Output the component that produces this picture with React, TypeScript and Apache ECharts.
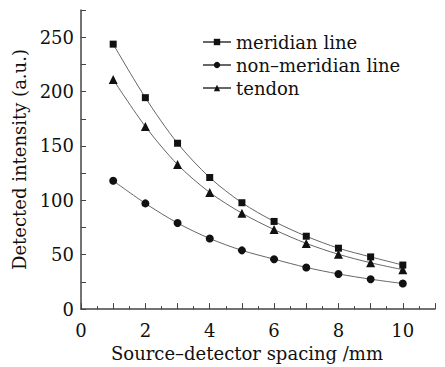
import React, { useEffect, useRef } from "react";
import * as echarts from "echarts";

const spacing = [1, 2, 3, 4, 5, 6, 7, 8, 9, 10];
const meridian = [243.6, 194.4, 152.5, 121, 97.8, 80.6, 67, 56, 48, 40.5];
const nonMeridian = [118, 97.2, 79.1, 64.9, 54, 45.9, 38.3, 32.3, 27.5, 23.5];
const tendon = [211, 167.9, 132.9, 107.2, 88.2, 73.1, 60.4, 50.4, 42.6, 36.2];
const seriesNames = ["meridian line", "non\u2013meridian line", "tendon"];

const FONT = "DejaVu Serif";

export default function App() {
  const ref = useRef<HTMLDivElement>(null);
  useEffect(() => {
    if (!ref.current) return;
    const chart = echarts.init(ref.current, undefined, { renderer: "svg" });
    const mk = (name: string, vals: number[], symbol: string, size: number) => ({
      name,
      type: "line",
      data: spacing.map((x, i) => [x, vals[i]]),
      smooth: 0.3,
      symbol,
      symbolSize: size,
      showSymbol: true,
      itemStyle: { color: "#111", borderWidth: 0 },
      lineStyle: { color: "#666", width: 1 },
    });
    chart.setOption({
      animation: false,
      backgroundColor: "#fff",
      textStyle: { fontFamily: FONT, fontSize: 18 },
      grid: { left: 81, top: 10, right: 10, bottom: 53 },
      legend: {
        orient: "vertical",
        left: 197,
        top: 28,
        itemGap: 5,
        itemWidth: 28,
        itemHeight: 8,
        textStyle: { fontFamily: FONT, fontSize: 18, color: "#111" },
        data: seriesNames,
      },
      xAxis: {
        type: "value",
        min: 0,
        max: 11,
        interval: 1,
        name: "Source\u2013detector spacing /mm",
        nameLocation: "middle",
        nameGap: 19,
        nameTextStyle: { fontFamily: FONT, fontSize: 18, color: "#111", padding: [0, 22, 0, 0] },
        axisLine: { lineStyle: { color: "#444", width: 1.5 } },
        axisTick: { inside: true, length: 6, lineStyle: { color: "#444" } },
        minorTick: { show: true, splitNumber: 2, length: 3, lineStyle: { color: "#444" } },
        splitLine: { show: false },
        axisLabel: {
          fontFamily: FONT,
          fontSize: 18,
          color: "#111",
          margin: 12,
          formatter: (v: number) => (v % 2 === 0 && v <= 10 ? String(v) : ""),
        },
      },
      yAxis: {
        type: "value",
        min: 0,
        max: 275,
        interval: 25,
        name: "Detected intensity (a.u.)",
        nameLocation: "middle",
        nameGap: 46,
        nameTextStyle: { fontFamily: FONT, fontSize: 18, color: "#111" },
        axisLine: { show: true, lineStyle: { color: "#444", width: 1.5 } },
        axisTick: { inside: true, length: 5, lineStyle: { color: "#444" } },
        splitLine: { show: false },
        axisLabel: {
          fontFamily: FONT,
          fontSize: 18,
          color: "#111",
          margin: 7,
          formatter: (v: number) => (v % 50 === 0 && v <= 250 ? String(v) : ""),
        },
      },
      series: [
        mk(seriesNames[0], meridian, "rect", 7),
        mk(seriesNames[1], nonMeridian, "circle", 8),
        mk(seriesNames[2], tendon, "triangle", 9),
      ],
    });
    return () => chart.dispose();
  }, []);
  return (
    <div
      ref={ref}
      style={{ position: "absolute", left: 0, top: 0, width: 445, height: 367 }}
    />
  );
}
